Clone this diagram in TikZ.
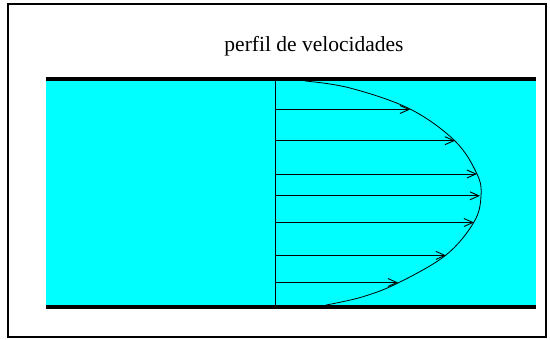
\documentclass[tikz,border=0pt]{standalone}
\usepackage{fontspec}
\setmainfont{Liberation Serif}
\usetikzlibrary{arrows.meta}
\definecolor{fluid}{HTML}{00FFFF}
\begin{document}
\begin{tikzpicture}[x=1pt,y=-1pt,
  wall/.style={line width=4.5pt},
  vel/.style={line width=0.9pt,-{Straight Barb[length=9pt,width=8pt,line width=0.9pt]}},
  prof/.style={line width=0.8pt}]
\useasboundingbox (0,0) rectangle (550,340);
\draw[line width=1.3pt] (8,4) rectangle (546,337);
\fill[fluid] (46,79) rectangle (536,307);
\draw[wall] (46,79) -- (536,79);
\draw[wall] (46,307) -- (536,307);
\node[font=\fontsize{21.5}{24}\selectfont] (title) at (314,46) {perfil de velocidades};
\coordinate (base top) at (275,81);
\coordinate (base bot) at (275,305);
\draw[line width=0.9pt] (base top) -- (base bot);
\draw[prof] plot[smooth,tension=0.6] coordinates {(305,81) (350,88) (410,109) (455,141) (477,174) (481,196) (474,222) (446,255) (398,283) (362,297) (326,305)};
\foreach \y/\x [count=\i] in {109.5/410, 140.7/455, 174/477, 195.8/480, 222.5/474, 255.4/446, 282.5/398} {
  \coordinate (s\i) at (275,\y);
  \coordinate (e\i) at (\x,\y);
  \draw[vel] (s\i) -- (e\i);
}
\end{tikzpicture}
\end{document}
